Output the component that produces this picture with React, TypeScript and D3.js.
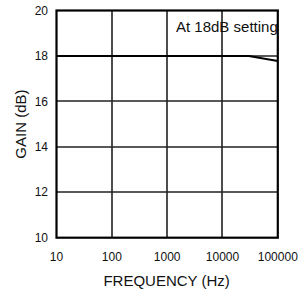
import * as d3 from 'd3'

const freqs = [10, 100, 1000, 10000, 30000, 100000]
const gains = [18, 18, 18, 18, 18, 17.78]
const xTicks = [10, 100, 1000, 10000, 100000]
const yTicks = [10, 12, 14, 16, 18, 20]

const W = 298
const H = 295
const FONT = '"Liberation Sans", Arial, sans-serif'

const left = 56.5, right = 277.8, top = 10.5, bottom = 237.7
const x = d3.scaleLog().domain([10, 100000]).range([left, right])
const y = d3.scaleLinear().domain([10, 20]).range([bottom, top])

export default function App() {
  const line = d3.line<number>()
    .x((_, i) => x(freqs[i]))
    .y(d => y(d))

  // grid as a single path, so vertical and horizontal segments share one style
  const gridPath =
    xTicks.slice(1, -1).map(t => `M${Math.round(x(t))},${top}V${bottom}`).join('') +
    yTicks.slice(1, -1).map(t => `M${left},${Math.round(y(t))}H${right}`).join('')

  return (
    <svg
      width={W}
      height={H}
      style={{ position: 'absolute', left: 0, top: 0, display: 'block', background: '#fff' }}
    >
      <path d={gridPath} fill="none" stroke="#222" strokeWidth={1.6} />

      <text x={176} y={32} fontFamily={FONT} fontSize={15} fill="#111">At 18dB setting</text>

      <path d={line(gains) ?? ''} fill="none" stroke="#000" strokeWidth={2} />

      <rect x={left} y={top} width={right - left} height={bottom - top}
        fill="none" stroke="#000" strokeWidth={2.2} />

      {yTicks.map(t => (
        <text key={'yl' + t} x={48} y={y(t)} dy="0.35em" textAnchor="end"
          fontFamily={FONT} fontSize={12} fill="#111">{t}</text>
      ))}
      {xTicks.map(t => (
        <text key={'xl' + t} x={x(t)} y={261} textAnchor="middle"
          fontFamily={FONT} fontSize={12} fill="#111">{t}</text>
      ))}

      <text x={(left + right) / 2 - 0.5} y={286} textAnchor="middle"
        fontFamily={FONT} fontSize={15} fill="#111">FREQUENCY (Hz)</text>
      <text transform={`translate(26,${(top + bottom) / 2}) rotate(-90)`} textAnchor="middle"
        fontFamily={FONT} fontSize={15} fill="#111">GAIN (dB)</text>
    </svg>
  )
}
